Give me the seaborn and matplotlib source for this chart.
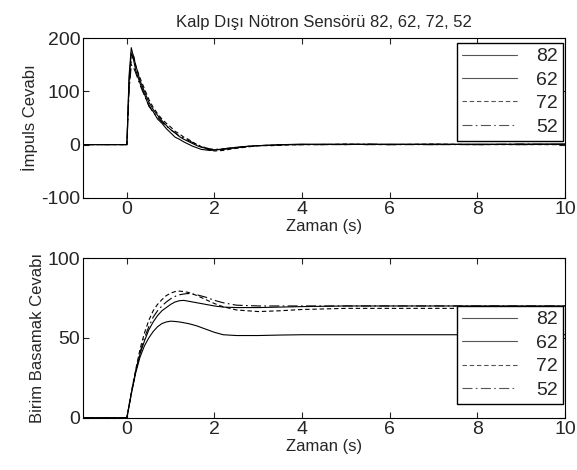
import matplotlib
matplotlib.use("Agg")
import matplotlib.pyplot as plt
import seaborn as sns

# sensor labels and line styles (legend order)
SENSORS = ["82", "62", "72", "52"]
STYLES = ["-", "-", (0, (4, 2.5)), (0, (9, 3, 1.5, 3))]

# impulse response samples
T_IMP = [-1.0, 0.0, 0.05, 0.1, 0.15, 0.2, 0.3, 0.4, 0.5, 0.6, 0.7, 0.8, 0.9, 1.0,
         1.1, 1.2, 1.3, 1.4, 1.5, 1.6, 1.7, 1.8, 1.9, 2.0, 2.2, 2.4, 2.6, 2.8, 3.0,
         3.3, 3.6, 4.0, 4.5, 5.0, 5.5, 6.0, 7.0, 8.0, 9.0, 10.0]
IMP_82 = [0, 0, 120, 172, 160, 140, 115, 95, 72, 62, 48, 40, 30, 22, 14, 10, 5, 1, -3,
          -6, -9, -10, -11, -10, -8, -6, -4, -3, -2, -1, 0, 0, 1, 0, 1, 0, 1, 0, 1, 1]
IMP_62 = [0, 0, 130, 182, 165, 150, 120, 100, 80, 66, 55, 45, 36, 28, 22, 15, 10, 6, 2,
          -2, -5, -7, -9, -10, -9, -7, -5, -3, -2, -1, 0, 1, 0, 1, 0, 1, 0, 1, 0, 1]
IMP_72 = [0, 0, 110, 158, 170, 148, 125, 105, 85, 70, 58, 48, 40, 33, 25, 20, 14, 10, 5,
          0, -4, -8, -10, -12, -11, -8, -6, -4, -2, -2, -1, 0, 0, 1, 0, 0, 1, 0, 0, 0]
IMP_52 = [0, 0, 100, 150, 145, 135, 112, 92, 75, 60, 52, 42, 35, 28, 22, 16, 12, 8, 4,
          0, -3, -6, -8, -9, -8, -6, -5, -3, -2, -1, 0, 0, 0, 0, 1, 0, 0, 0, 1, 0]

# step response samples
T_STEP = [-1.0, 0.0, 0.1, 0.2, 0.3, 0.4, 0.5, 0.6, 0.7, 0.8, 0.9, 1.0, 1.1, 1.2, 1.3,
          1.4, 1.5, 1.6, 1.8, 2.0, 2.2, 2.5, 3.0, 3.5, 4.0, 5.0, 6.0, 7.0, 8.0, 9.0, 10.0]
STEP_82 = [0, 0, 15, 28, 38, 45, 50, 54, 57, 59, 60, 60.5, 60.3, 60, 59.5, 59, 58.3,
           57.5, 55.5, 53.5, 52, 51.5, 51.5, 51.8, 52, 52, 52, 52, 52, 52, 52]
STEP_62 = [0, 0, 15, 29, 40, 48, 55, 60, 64, 67, 69, 71, 72.5, 73.3, 73.5, 73, 72.5,
           72, 71, 70, 69.3, 69, 69, 69.3, 69.6, 70, 70, 70, 70, 70, 70]
STEP_72 = [0, 0, 16, 30, 43, 53, 61, 67, 71, 74, 76.5, 78, 79, 79.3, 79, 78.5, 77.5,
           76.5, 74, 71.5, 69.5, 67.5, 66.5, 67, 67.8, 68.5, 68.5, 68.5, 68.5, 68.5, 68.5]
STEP_52 = [0, 0, 15, 29, 41, 50, 57, 63, 67, 70, 72.5, 74.5, 76, 77, 77.5, 77.8, 77.5,
           77, 75.5, 73.5, 72, 70.5, 70, 70, 70, 70, 70, 70, 70, 70, 70]

sns.set_style("ticks")
plt.rcParams["font.family"] = ["Liberation Sans", "DejaVu Sans"]
plt.rcParams["axes.unicode_minus"] = False

fig = plt.figure(figsize=(5.77, 4.70), dpi=100)
ax1 = fig.add_axes([0.144, 0.579, 0.835, 0.340])
ax2 = fig.add_axes([0.144, 0.111, 0.835, 0.340])


def draw(ax, t, series, ylim, yticks, ylabel, legend_box):
    for name, vals, ls in zip(SENSORS, series, STYLES):
        sns.lineplot(x=t, y=vals, ax=ax, color="black", linewidth=0.8,
                     linestyle=ls, label=name, estimator=None, sort=False)
    ax.set_xlim(-1, 10)
    ax.set_ylim(*ylim)
    ax.set_xticks([0, 2, 4, 6, 8, 10])
    ax.set_yticks(yticks)
    ax.tick_params(direction="in", top=True, right=True, length=4, width=0.8,
                   labelsize=14, pad=2)
    for sp in ax.spines.values():
        sp.set_linewidth(0.8)
        sp.set_color("black")
    ax.set_xlabel("Zaman (s)", fontsize=12, labelpad=1)
    ax.set_ylabel(ylabel, fontsize=12, labelpad=2)
    leg = ax.legend(loc="upper left", bbox_to_anchor=legend_box, fontsize=14,
                    frameon=True, fancybox=False, framealpha=1, edgecolor="black",
                    handlelength=2.8, handletextpad=1.0, borderpad=0.25,
                    labelspacing=0.3, borderaxespad=0)
    leg.get_frame().set_linewidth(1.0)
    for h in leg.get_lines():
        h.set_color("#555555")


draw(ax1, T_IMP, [IMP_82, IMP_62, IMP_72, IMP_52], (-100, 200),
     [-100, 0, 100, 200], "İmpuls Cevabı", (0.777, 0.97))
draw(ax2, T_STEP, [STEP_82, STEP_62, STEP_72, STEP_52], (0, 100),
     [0, 50, 100], "Birim Basamak Cevabı", (0.777, 0.70))

ax1.set_title("Kalp Dışı Nötron Sensörü 82, 62, 72, 52", fontsize=12, pad=8)

fig.savefig("out.png", dpi=100)
